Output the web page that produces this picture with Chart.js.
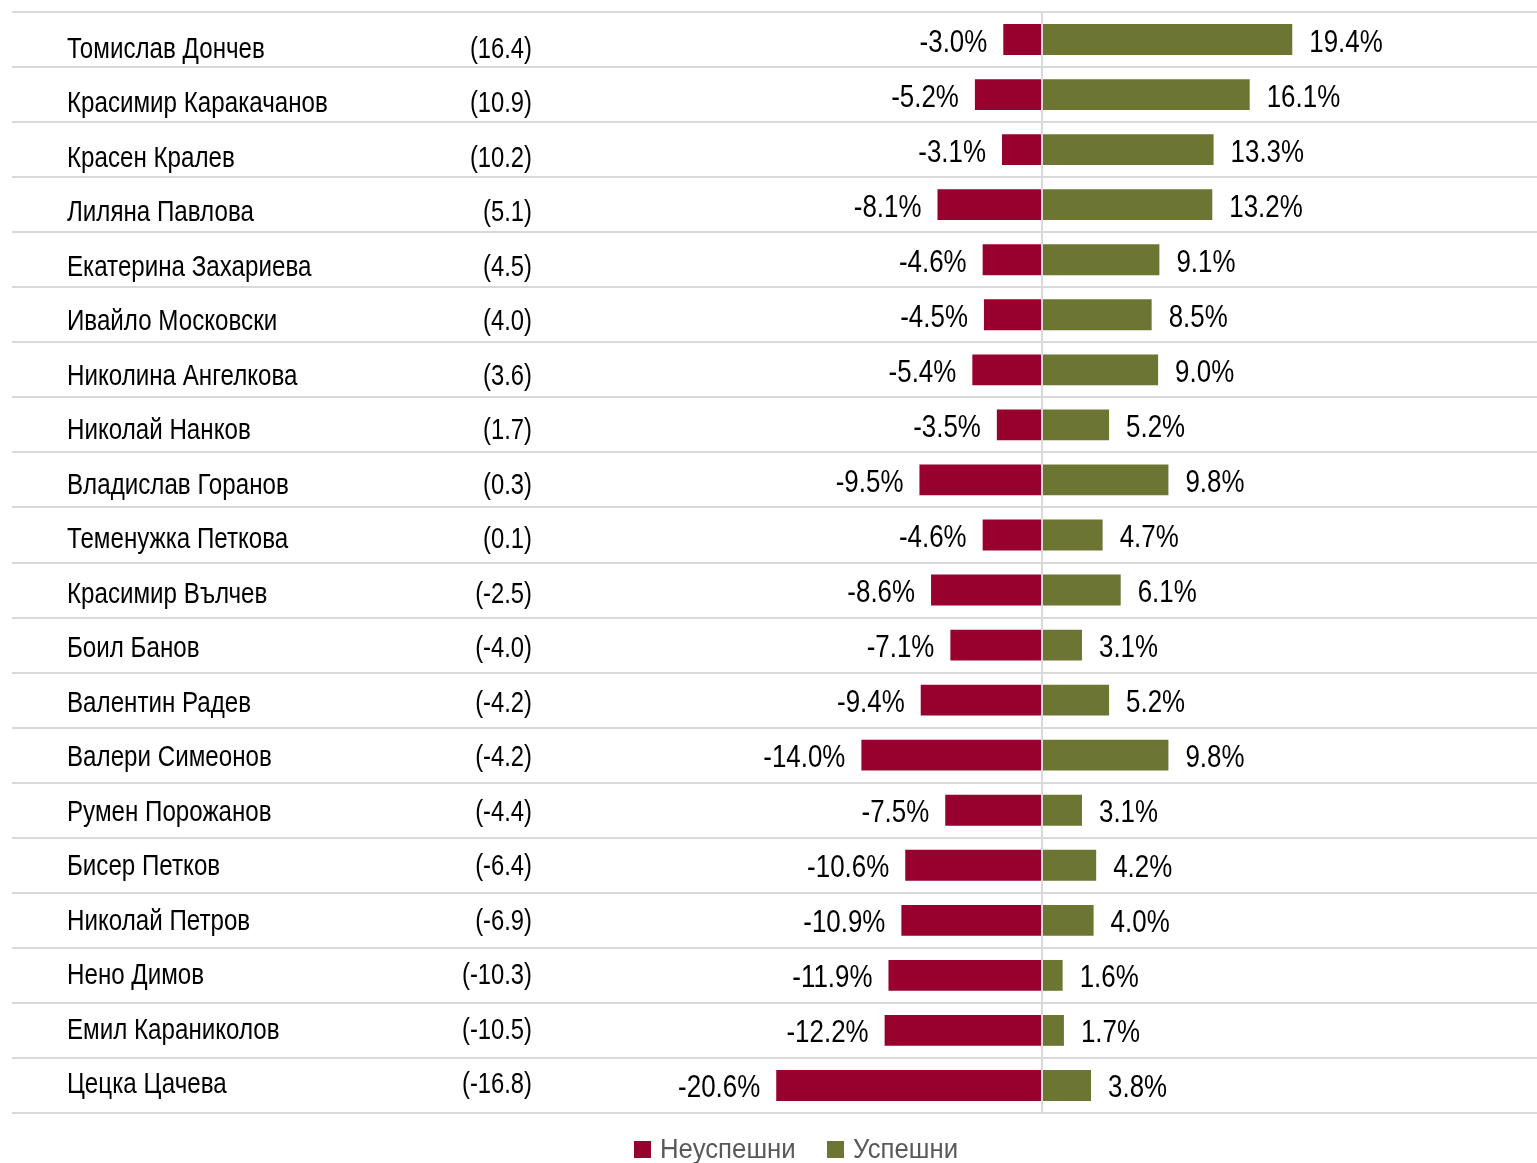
<!DOCTYPE html>
<html><head><meta charset="utf-8">
<script src="https://cdn.jsdelivr.net/npm/chart.js@4/dist/chart.umd.min.js"></script>
<style>html,body{margin:0;padding:0;background:#fff}canvas{display:block}</style>
</head><body>
<canvas id="c" width="1537" height="1163"></canvas>
<script>
const names = ["Томислав Дончев","Красимир Каракачанов","Красен Кралев","Лиляна Павлова","Екатерина Захариева","Ивайло Московски","Николина Ангелкова","Николай Нанков","Владислав Горанов","Теменужка Петкова","Красимир Вълчев","Боил Банов","Валентин Радев","Валери Симеонов","Румен Порожанов","Бисер Петков","Николай Петров","Нено Димов","Емил Караниколов","Цецка Цачева"];
const netLabels = ["(16.4)","(10.9)","(10.2)","(5.1)","(4.5)","(4.0)","(3.6)","(1.7)","(0.3)","(0.1)","(-2.5)","(-4.0)","(-4.2)","(-4.2)","(-4.4)","(-6.4)","(-6.9)","(-10.3)","(-10.5)","(-16.8)"];
const unsuccessful = [-3.0,-5.2,-3.1,-8.1,-4.6,-4.5,-5.4,-3.5,-9.5,-4.6,-8.6,-7.1,-9.4,-14.0,-7.5,-10.6,-10.9,-11.9,-12.2,-20.6];
const successful = [19.4,16.1,13.3,13.2,9.1,8.5,9.0,5.2,9.8,4.7,6.1,3.1,5.2,9.8,3.1,4.2,4.0,1.6,1.7,3.8];
const seriesNames = ["Неуспешни","Успешни"];
const xMin = -79.84, xMax = 38.37;

const FONT = "'Liberation Sans',Arial,sans-serif";

function narrowText(ctx, txt, x, y, sx, align) {
  ctx.save();
  ctx.translate(x, y);
  ctx.scale(sx, 1);
  ctx.textAlign = align;
  ctx.fillText(txt, 0, 0);
  ctx.restore();
}

const overlay = {
  id: 'overlay',
  afterDatasetsDraw(chart) {
    const ctx = chart.ctx;
    const y = chart.scales.y;
    ctx.save();
    ctx.fillStyle = '#000';
    ctx.textBaseline = 'alphabetic';
    // names and net values (text column rows are slightly tighter than bar rows)
    ctx.font = "29px " + FONT;
    names.forEach((n, i) => {
      const by = y.getPixelForValue(i) + 18 - i * 0.55;
      narrowText(ctx, n, 67, by, 0.833, 'left');
      narrowText(ctx, netLabels[i], 532, by, 0.82, 'right');
    });
    // data labels
    ctx.font = "32px " + FONT;
    chart.data.datasets.forEach((ds, di) => {
      const meta = chart.getDatasetMeta(di);
      meta.data.forEach((bar, i) => {
        const v = ds.data[i];
        const txt = v.toFixed(1) + '%';
        if (v < 0) narrowText(ctx, txt, bar.x - 16, bar.y + 12, 0.81, 'right');
        else narrowText(ctx, txt, bar.x + 17, bar.y + 12, 0.81, 'left');
      });
    });
    // legend
    ctx.font = "28px " + FONT;
    const sq = [634, 827];
    chart.data.datasets.forEach((ds, di) => {
      const lx = sq[di];
      ctx.fillStyle = ds.backgroundColor;
      ctx.fillRect(lx, 1141, 17, 17);
      ctx.fillStyle = '#595959';
      narrowText(ctx, ds.label, lx + 26, 1158, 0.92, 'left');
    });
    ctx.restore();
  }
};

new Chart(document.getElementById('c'), {
  type: 'bar',
  data: {
    labels: names,
    datasets: [
      { label: seriesNames[0], data: unsuccessful, backgroundColor: '#98002E', barPercentage: 0.56, categoryPercentage: 1 },
      { label: seriesNames[1], data: successful, backgroundColor: '#6D7533', barPercentage: 0.56, categoryPercentage: 1 }
    ]
  },
  options: {
    indexAxis: 'y',
    responsive: false,
    animation: false,
    devicePixelRatio: 1,
    layout: { padding: { left: 12, right: 0, top: 12, bottom: 50 } },
    plugins: { legend: { display: false }, tooltip: { enabled: false } },
    scales: {
      x: {
        stacked: true, min: xMin, max: xMax,
        ticks: { display: false },
        border: { display: false },
        grid: { drawTicks: false, lineWidth: 2, color: c => c.tick && c.tick.value === 0 ? '#d9d9d9' : 'rgba(0,0,0,0)' },
        afterBuildTicks: s => { s.ticks = [{ value: 0 }]; }
      },
      y: {
        stacked: true,
        ticks: { display: false },
        border: { display: false },
        grid: { offset: true, drawTicks: false, lineWidth: 2, color: '#d9d9d9' }
      }
    }
  },
  plugins: [overlay]
});
</script>
</body></html>
